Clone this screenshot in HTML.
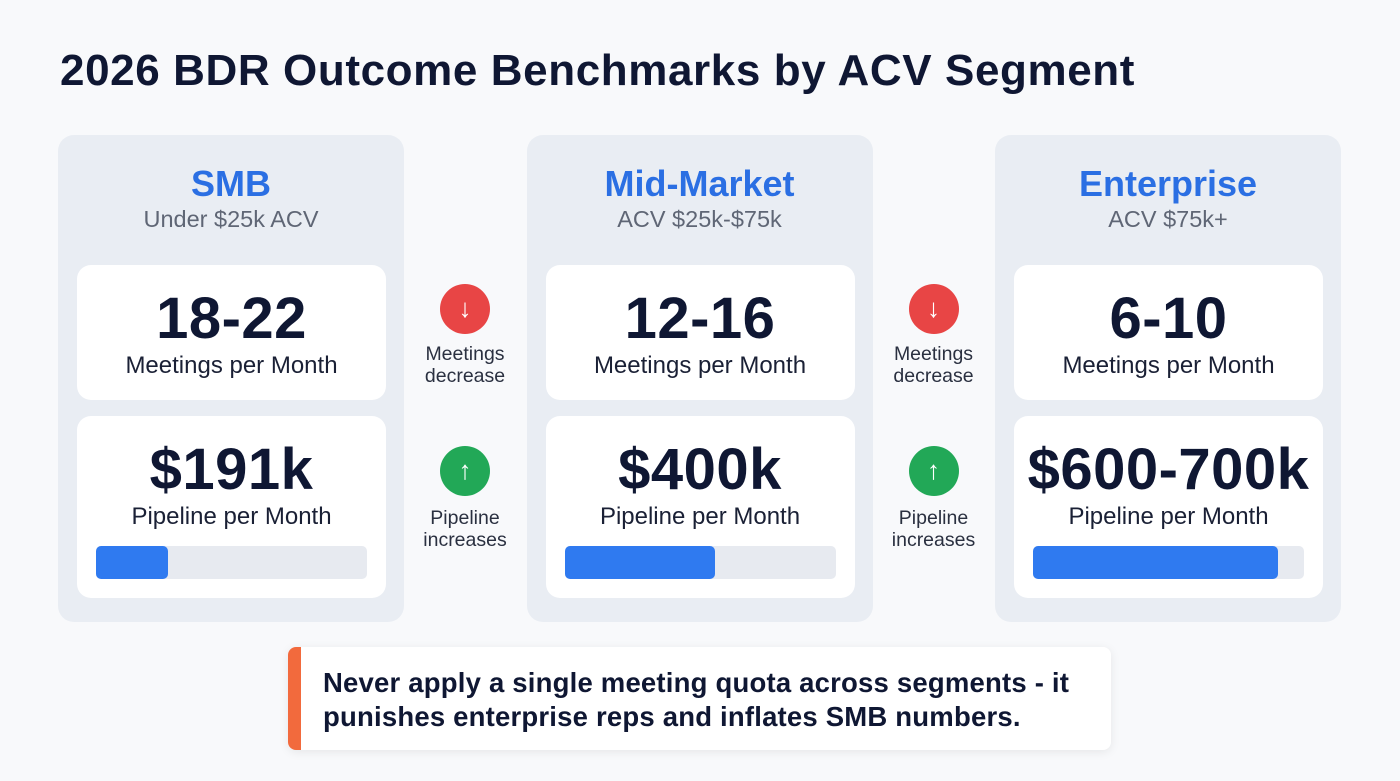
<!DOCTYPE html>
<html><head><meta charset="utf-8"><style>
*{box-sizing:border-box;margin:0;padding:0}
body{width:1400px;height:781px;background:#f8f9fb;font-family:"Liberation Sans",sans-serif;position:relative;overflow:hidden;color:#0f1733}
.abs{position:absolute}
h1{position:absolute;left:60px;top:46px;font-size:44px;font-weight:700;color:#0f1733;letter-spacing:0.6px;white-space:nowrap}
.panel{position:absolute;top:135px;width:346px;height:487px;background:#e9edf3;border-radius:16px}
.seg{position:absolute;top:28px;width:100%;text-align:center;font-size:36px;font-weight:700;color:#2b6fe3}
.sub{position:absolute;top:71px;width:100%;text-align:center;font-size:23.5px;color:#5f6675}
.card{position:absolute;left:19px;width:309px;background:#fff;border-radius:14px}
.big{position:absolute;width:100%;text-align:center;font-size:58px;font-weight:700;color:#0f1733;letter-spacing:0.5px;white-space:nowrap}
.lbl{position:absolute;width:100%;text-align:center;font-size:24px;color:#1a2035}
.track{position:absolute;left:19px;top:130px;width:271px;height:33px;background:#e7eaf0;border-radius:5px}
.fill{position:absolute;left:0;top:0;height:33px;background:#2f7af0;border-radius:5px}
.ico{position:absolute;width:50px;height:50px;border-radius:50%;color:#fff;font-size:26px;text-align:center;line-height:48px}
.itxt{position:absolute;width:130px;text-align:center;font-size:19.5px;line-height:22px;color:#2a3040}
</style></head><body>
<h1>2026 BDR Outcome Benchmarks by ACV Segment</h1>
<div id="root"></div>
<div class="abs" style="left:288px;top:647px;width:823px;height:103px;background:#fff;border-radius:8px;box-shadow:0 2px 10px rgba(0,0,0,0.08);overflow:hidden">
<div class="abs" style="left:0;top:0;width:13px;height:103px;background:#f26a3d"></div>
<div class="abs" style="left:35px;top:19px;font-size:27.5px;font-weight:700;line-height:34px;color:#0f1733;letter-spacing:0.2px;white-space:nowrap">Never apply a single meeting quota across segments - it<br>punishes enterprise reps and inflates SMB numbers.</div>
</div>
<script>
const segments=["SMB","Mid-Market","Enterprise"];
const subtitles=["Under $25k ACV","ACV $25k-$75k","ACV $75k+"];
const meetings=["18-22","12-16","6-10"];
const pipelineLabels=["$191k","$400k","$600-700k"];
const pipelineValues=[191,400,650];
const pipelineMax=720;
const root=document.getElementById('root');
const xScale=i=>58+i*468.5;
function mk(cls,parent,html){const d=document.createElement('div');d.className=cls;if(html!==undefined)d.innerHTML=html;parent.appendChild(d);return d;}
segments.forEach((s,i)=>{
 const p=mk('panel',root);p.style.left=xScale(i)+'px';
 
 
 const t=mk('seg',p,s);
 
 
 const st=mk('sub',p,subtitles[i]);
 
 
 const c1=mk('card',p);c1.style.top='130px';c1.style.height='135px';
 
 
 const b1=mk('big',c1,meetings[i]);b1.style.top='20px';
 
 
 const l1=mk('lbl',c1,'Meetings per Month');l1.style.top='87px';
 
 
 const c2=mk('card',p);c2.style.top='281px';c2.style.height='182px';
 
 
 const b2=mk('big',c2,pipelineLabels[i]);b2.style.top='20px';
 
 
 const l2=mk('lbl',c2,'Pipeline per Month');l2.style.top='87px';
 
 
 const tr=mk('track',c2);
 
 
 const f=mk('fill',tr);f.style.width=(271*pipelineValues[i]/pipelineMax)+'px';
 
 
 if(i<2){
  const cx=xScale(i)+407;
  const a=mk('ico',root,'&#8595;');a.style.left=(cx-25)+'px';a.style.top='284px';a.style.background='#e84545';
  
  
  const at=mk('itxt',root,'Meetings<br>decrease');at.style.left=(cx-65)+'px';at.style.top='343px';
  
  
  const u=mk('ico',root,'&#8593;');u.style.left=(cx-25)+'px';u.style.top='446px';u.style.background='#22a857';
  
  
  const ut=mk('itxt',root,'Pipeline<br>increases');ut.style.left=(cx-65)+'px';ut.style.top='507px';
  
  
 }
});
</script>
</body></html>
